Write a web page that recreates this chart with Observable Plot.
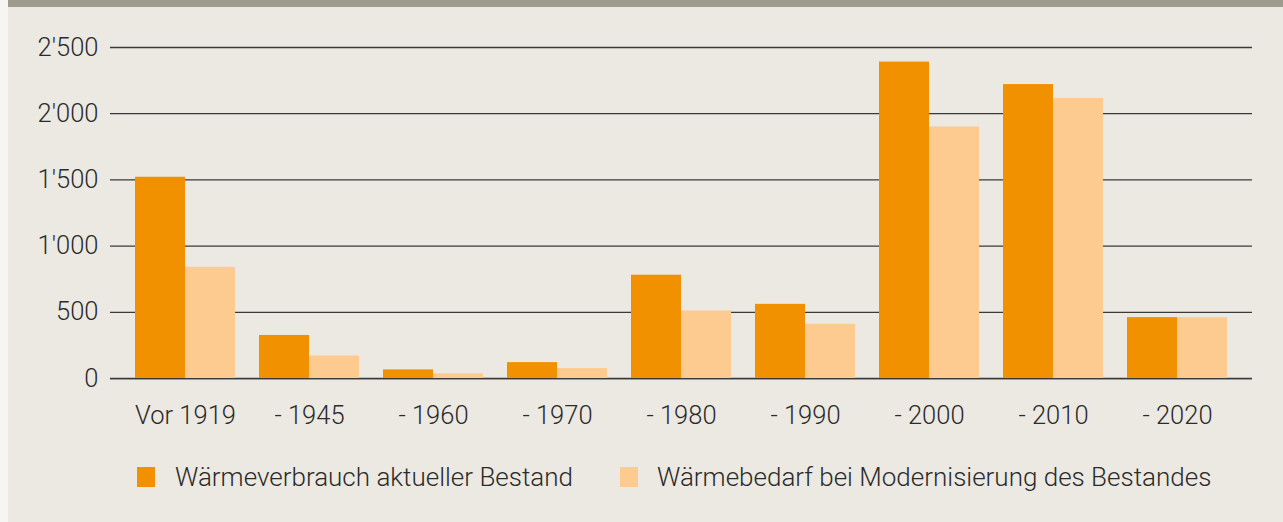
<!DOCTYPE html>
<html>
<head>
<meta charset="utf-8">
<script src="https://cdn.jsdelivr.net/npm/d3@7"></script>
<script src="https://cdn.jsdelivr.net/npm/@observablehq/plot@0.6"></script>
<style>
  html, body { margin: 0; padding: 0; background: #f6f5f1; }
  #wrap { position: relative; margin-left: 8px; width: 1275px; height: 522px; background: #ece9e2; overflow: hidden;
          font-family: Roboto, "Liberation Sans", sans-serif; font-weight: 300; color: #2b2b2b; }
  #topbar { height: 7px; background: #9c9b8e; }
  #legend { position: absolute; top: 462px; left: 0; width: 100%; height: 30px; font-size: 26px; }
  .sw { position: absolute; width: 18px; height: 20px; top: 5px; }
  .lt { position: absolute; top: 0px; line-height: 30px; white-space: nowrap; }
  svg text { font-family: Roboto, "Liberation Sans", sans-serif; font-weight: 300; }
</style>
</head>
<body>
<div id="wrap">
  <div id="topbar"></div>
  <div id="chart"></div>
  <div id="legend"></div>
</div>
<script>
const categories = ["Vor 1919", "- 1945", "- 1960", "- 1970", "- 1980", "- 1990", "- 2000", "- 2010", "- 2020"];
const seriesNames = ["Wärmeverbrauch aktueller Bestand", "Wärmebedarf bei Modernisierung des Bestandes"];
const verbrauch = [1520, 325, 65, 120, 780, 560, 2390, 2220, 460];
const bedarf = [840, 170, 35, 75, 510, 410, 1900, 2115, 460];
const yTicks = [0, 500, 1000, 1500, 2000, 2500];
const colors = ["#f29100", "#fdcb8f"];

const dataA = categories.map((c, i) => ({cat: c, value: verbrauch[i]}));
const dataB = categories.map((c, i) => ({cat: c, value: bedarf[i]}));

const fmt = v => d3.format(",")(v).replace(/,/g, "'");
const half = 50;

const chart = Plot.plot({
  width: 1275,
  height: 433,
  marginLeft: 102,
  marginRight: 31,
  marginTop: 40,
  marginBottom: 62,
  style: {background: "transparent", fontSize: "25.5px", color: "#2b2b2b", overflow: "visible"},
  x: {domain: categories, paddingInner: 0.194, paddingOuter: 0.2, label: null, tickSize: 0, tickPadding: 27},
  y: {domain: [0, 2500], ticks: yTicks, tickFormat: fmt, label: null, tickSize: 0, tickPadding: 12},
  marks: [
    Plot.ruleY(yTicks, {stroke: "#3a3a3a", strokeWidth: 1.3}),
    Plot.barY(dataA, {x: "cat", y: "value", fill: colors[0], insetLeft: 0, insetRight: half}),
    Plot.barY(dataB, {x: "cat", y: "value", fill: colors[1], insetLeft: half, insetRight: 0}),
    Plot.ruleY([0], {stroke: "#999", strokeWidth: 1, dy: 1})
  ]
});
document.getElementById("chart").appendChild(chart);

const legend = document.getElementById("legend");
const legendX = [[129, 167], [612, 649]];
seriesNames.forEach((name, i) => {
  const sw = document.createElement("div");
  sw.className = "sw"; sw.style.left = legendX[i][0] + "px"; sw.style.background = colors[i];
  const t = document.createElement("div");
  t.className = "lt"; t.style.left = legendX[i][1] + "px"; t.textContent = name;
  legend.appendChild(sw); legend.appendChild(t);
});
</script>
</body>
</html>
